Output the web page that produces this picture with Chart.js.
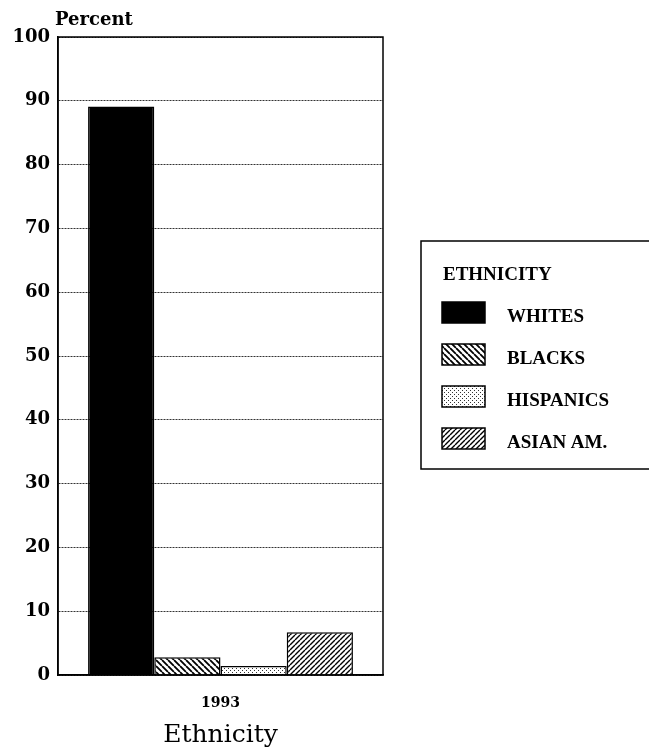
<!DOCTYPE html>
<html>
<head>
<meta charset="utf-8">
<script src="https://cdn.jsdelivr.net/npm/chart.js@4/dist/chart.umd.min.js"></script>
<style>
  html, body { margin: 0; padding: 0; background: #fff; }
  canvas { display: block; }
</style>
</head>
<body>
<canvas id="grafica" width="649" height="750"></canvas>
<script>
// datos
const categorias = ['1993'];
const etnias = ['WHITES', 'BLACKS', 'HISPANICS', 'ASIAN AM.'];
const whites = [89.1];
const blacks = [2.8];
const hispanics = [1.4];
const asianAm = [6.7];
const ticksY = [0, 10, 20, 30, 40, 50, 60, 70, 80, 90, 100];

// ── patrones de relleno ─────────────────────────────
function rayas(dir, paso, grosor) {
    const c = document.createElement('canvas');
    c.width = paso; c.height = paso;
    const g = c.getContext('2d');
    g.fillStyle = '#fff';
    g.fillRect(0, 0, paso, paso);
    g.strokeStyle = '#000';
    g.lineWidth = grosor;
    g.beginPath();
    for (let k = -1; k <= 1; k++) {
        if (dir === 'back') {
            g.moveTo(k * paso, 0); g.lineTo(k * paso + paso, paso);
        } else {
            g.moveTo(k * paso, paso); g.lineTo(k * paso + paso, 0);
        }
    }
    g.stroke();
    return g.createPattern(c, 'repeat');
}
function puntos() {
    const c = document.createElement('canvas');
    c.width = 4; c.height = 4;
    const g = c.getContext('2d');
    g.fillStyle = '#fff';
    g.fillRect(0, 0, 4, 4);
    g.fillStyle = '#333';
    g.fillRect(0, 0, 1, 1);
    g.fillRect(2, 2, 1, 1);
    return g.createPattern(c, 'repeat');
}

const rellenos = ['#000', rayas('back', 6, 1.8), puntos(), rayas('fwd', 5, 1.4)];
const series = [whites, blacks, hispanics, asianAm];

// marco superior/derecho del area del grafico + titulo "Percent"
const marco = {
    id: 'marco',
    afterDatasetsDraw(chart) {
        const a = chart.chartArea, ctx = chart.ctx;
        ctx.save();
        ctx.strokeStyle = '#000';
        ctx.lineWidth = 1.5;
        ctx.strokeRect(a.left, a.top, a.right - a.left, a.bottom - a.top);
        ctx.fillStyle = '#000';
        ctx.font = 'bold 18px "DejaVu Serif"';
        ctx.textBaseline = 'middle';
        ctx.textAlign = 'left';
        ctx.fillText('Percent', 55, 20);
        ctx.restore();
    }
};

// leyenda dibujada a mano (el recuadro se sale por la derecha)
const leyenda = {
    id: 'leyenda',
    afterDraw(chart) {
        const ctx = chart.ctx;
        ctx.save();
        ctx.strokeStyle = '#000';
        ctx.lineWidth = 1.5;
        ctx.strokeRect(421, 241, 240, 228);
        ctx.fillStyle = '#000';
        ctx.font = 'bold 19px "Liberation Serif"';
        ctx.textBaseline = 'middle';
        ctx.textAlign = 'left';
        ctx.fillText('ETHNICITY', 443, 275);
        chart.data.datasets.forEach((ds, i) => {
            const y = 302 + i * 42;
            ctx.fillStyle = ds.backgroundColor;
            ctx.fillRect(442, y, 43, 21);
            ctx.lineWidth = 1.5;
            ctx.strokeRect(442, y, 43, 21);
            ctx.fillStyle = '#000';
            ctx.fillText(ds.label, 507, y + 15);
        });
        ctx.restore();
    }
};

new Chart(document.getElementById('grafica'), {
    type: 'bar',
    data: {
        labels: categorias,
        datasets: etnias.map((nombre, i) => ({
            label: nombre,
            data: series[i],
            backgroundColor: rellenos[i],
            borderColor: '#000',
            borderWidth: 1.5,
            categoryPercentage: 0.815,
            barPercentage: 1.0
        }))
    },
    options: {
        responsive: false,
        animation: false,
        layout: { padding: { left: 0, right: 266, top: 37, bottom: 0 } },
        plugins: {
            legend: { display: false },
            tooltip: { enabled: false }
        },
        scales: {
            x: {
                grid: { display: false },
                border: { display: true, color: '#000', width: 1.5 },
                ticks: {
                    color: '#000',
                    padding: 12,
                    font: { family: 'DejaVu Serif', weight: 'bold', size: 14 }
                },
                title: {
                    display: true,
                    text: 'Ethnicity',
                    color: '#000',
                    padding: { top: 0, bottom: 0 },
                    font: { family: 'DejaVu Serif', size: 25 }
                },
                afterFit: s => { s.height = 75; }
            },
            y: {
                min: 0,
                max: 100,
                afterBuildTicks: s => { s.ticks = ticksY.map(v => ({ value: v })); },
                grid: {
                    color: '#333',
                    lineWidth: 1,
                    drawTicks: false
                },
                border: { display: true, color: '#000', width: 1.5, dash: [2, 1] },
                ticks: {
                    color: '#000',
                    padding: 8,
                    font: { family: 'DejaVu Serif', weight: 'bold', size: 18 }
                },
                afterFit: s => { s.width = 58; }
            }
        }
    },
    plugins: [marco, leyenda]
});
</script>
</body>
</html>
